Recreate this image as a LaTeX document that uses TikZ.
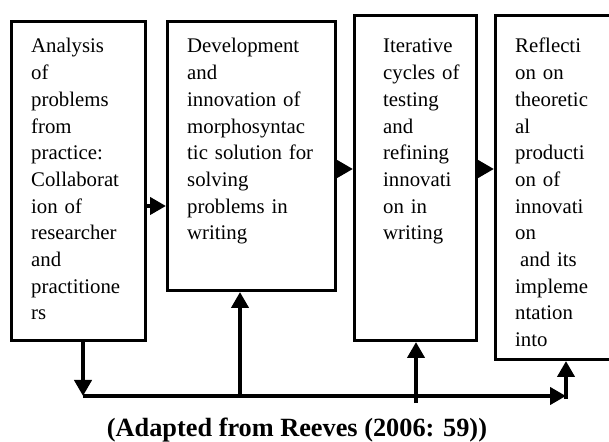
\documentclass[tikz,border=0pt]{standalone}
\usepackage{fontspec}
\setmainfont{Liberation Serif}
\usetikzlibrary{arrows.meta}
\begin{document}
\begin{tikzpicture}[x=1pt,y=1pt,
  box/.style={draw, line width=3pt, inner sep=0pt, anchor=north west},
  boxtext/.style={anchor=base west, inner sep=0pt, text width=#1, align=left,
    font=\fontsize{20.8}{26.7}\selectfont},
  arr/.style={line width=4.8pt, -{Triangle[length=16pt,width=17pt]}}]
\useasboundingbox (0,0) rectangle (609,441);
\clip (0,0) rectangle (609,441);
% boxes
\node[box, minimum width=134pt, minimum height=319pt] (b1) at (10,421) {};
\node[box, minimum width=168pt, minimum height=269pt] (b2) at (166,421) {};
\node[box, minimum width=122pt, minimum height=325pt] (b3) at (353,427) {};
\node[box, minimum width=116pt, minimum height=344pt] (b4) at (494,427) {};
% texts
\node[boxtext=108pt] (t1) at (31,388) {Analysis\\of\\problems\\from\\practice:\\Collaborat\\ion of\\researcher\\and\\practitione\\rs};
\node[boxtext=140pt] (t2) at (187,388) {Development\\and\\innovation of\\morphosyntac\\tic solution for\\solving\\problems in\\writing};
\node[boxtext=90pt] (t3) at (383,388) {Iterative\\cycles of\\testing\\and\\refining\\innovati\\on in\\writing};
\node[boxtext=90pt] (t4) at (515,388) {Reflecti\\on on\\theoretic\\al\\producti\\on of\\innovati\\on\\\hspace*{5pt}and its\\impleme\\ntation\\into};
% horizontal arrows between boxes
\path ([yshift=-186pt]b1.north east) coordinate (a1);
\path ([yshift=-149pt]b2.north east) coordinate (a2);
\path ([yshift=-155pt]b3.north east) coordinate (a3);
\draw[arr] (a1) -- (a1 -| b2.west);
\draw[arr] (a2) -- (a2 -| b3.west);
\draw[arr] (a3) -- (a3 -| b4.west);
% bottom loop
\coordinate (j1) at (83,45);
\coordinate (j2) at (240,45);
\coordinate (j3) at (416,38);
\coordinate (j4) at (566,45);
\coordinate (j4b) at (566,42);
\draw[arr] (b1.south -| j1) -- (j1);
\draw[arr] (j1) -- (j4);
\draw[arr] (j2) -- (b2.south -| j2);
\draw[arr] (j3) -- (b3.south -| j3);
\draw[arr] (j4b) -- (b4.south -| j4b);
% caption
\node[font=\bfseries\fontsize{26.3}{30}\selectfont, anchor=base, inner sep=0pt] (cap) at (297,5) {(Adapted from Reeves (2006: 59))};
\end{tikzpicture}
\end{document}
